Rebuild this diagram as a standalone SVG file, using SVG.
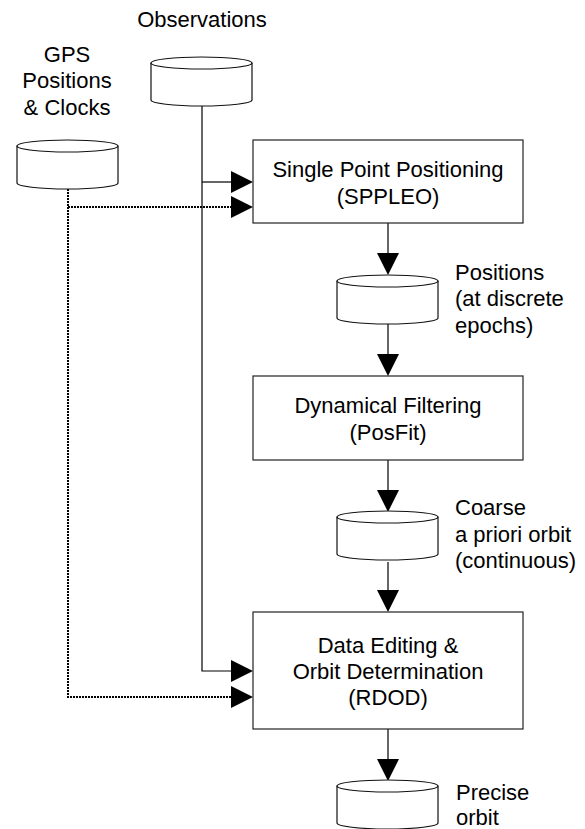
<svg xmlns="http://www.w3.org/2000/svg" width="585" height="829" viewBox="0 0 585 829">
  <style>
    text { font-family: "Liberation Sans", Arial, sans-serif; font-size: 22px; fill: #000; }
    .mid { text-anchor: middle; }
    .box { fill: #fff; stroke: #222; stroke-width: 1.2; }
    .db { fill: #fff; stroke: #111; stroke-width: 1.2; }
    .solid { fill: none; stroke: #000; stroke-width: 1.2; }
    .dot { fill: none; stroke: #000; stroke-width: 2; stroke-dasharray: 2 1; }
    .head { fill: #000; stroke: none; }
  </style>
  <defs>
    <!-- data store: cylinder 101 wide, top ellipse centred at y=0 -->
    <g id="store-shape">
      <path class="db" d="M0,0 L0,37 A50.5,6 0 0 0 101,37 L101,0"/>
      <ellipse class="db" cx="50.5" cy="0" rx="50.5" ry="6"/>
    </g>
    <!-- arrowheads, tip at the origin -->
    <polygon id="head-down" class="head" points="0,0 -11,-22 11,-22"/>
    <polygon id="head-right" class="head" points="0,0 -22,-11 -22,11"/>
  </defs>

  <!-- connectors -->
  <g id="connectors">
    <!-- GPS orbits and clocks feed -->
    <path class="dot" d="M68,189 L68,697 L232,697"/>
    <path class="dot" d="M68,207 L232,207"/>
    <use href="#head-right" x="253" y="207"/>
    <use href="#head-right" x="253" y="697"/>
    <!-- observations feed -->
    <path class="solid" d="M202,106 L202,671 L232,671"/>
    <path class="solid" d="M202,182 L232,182"/>
    <use href="#head-right" x="253" y="182"/>
    <use href="#head-right" x="253" y="671"/>
    <!-- main chain -->
    <path class="solid" d="M388,223 L388,254"/>
    <use href="#head-down" x="388" y="275"/>
    <path class="solid" d="M388,324 L388,355"/>
    <use href="#head-down" x="388" y="376"/>
    <path class="solid" d="M388,460 L388,491"/>
    <use href="#head-down" x="388" y="512"/>
    <path class="solid" d="M388,562 L388,591"/>
    <use href="#head-down" x="388" y="612"/>
    <path class="solid" d="M388,729 L388,760"/>
    <use href="#head-down" x="388" y="781"/>
  </g>

  <g id="observations">
    <use href="#store-shape" x="151" y="63"/>
    <text class="mid" x="202" y="27">Observations</text>
  </g>

  <g id="gps">
    <use href="#store-shape" x="17" y="146"/>
    <text class="mid" x="67" y="62">GPS</text>
    <text class="mid" x="67" y="88">Positions</text>
    <text class="mid" x="67" y="115">&amp; Clocks</text>
  </g>

  <g id="sppleo">
    <rect class="box" x="253" y="140" width="270" height="83"/>
    <text class="mid" x="388" y="177">Single Point Positioning</text>
    <text class="mid" x="388" y="204">(SPPLEO)</text>
  </g>

  <g id="positions">
    <use href="#store-shape" x="337" y="281"/>
    <text x="455" y="280">Positions</text>
    <text x="455" y="306">(at discrete</text>
    <text x="455" y="333">epochs)</text>
  </g>

  <g id="posfit">
    <rect class="box" x="253" y="376" width="270" height="84"/>
    <text class="mid" x="388" y="413">Dynamical Filtering</text>
    <text class="mid" x="388" y="440">(PosFit)</text>
  </g>

  <g id="coarse-orbit">
    <use href="#store-shape" x="337" y="517"/>
    <text x="455" y="515">Coarse</text>
    <text x="455" y="542">a priori orbit</text>
    <text x="455" y="568">(continuous)</text>
  </g>

  <g id="rdod">
    <rect class="box" x="253" y="612" width="270" height="117"/>
    <text class="mid" x="388" y="653">Data Editing &amp;</text>
    <text class="mid" x="388" y="679">Orbit Determination</text>
    <text class="mid" x="388" y="705">(RDOD)</text>
  </g>

  <g id="precise-orbit">
    <use href="#store-shape" x="337" y="786"/>
    <text x="456" y="800">Precise</text>
    <text x="456" y="825">orbit</text>
  </g>
</svg>
